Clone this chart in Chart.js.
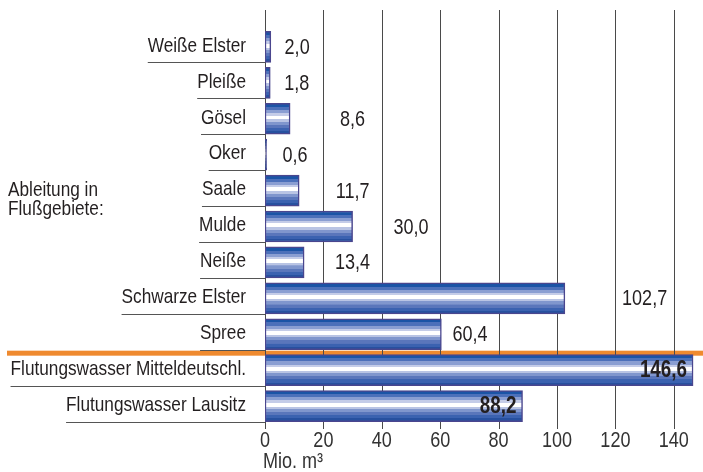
<!DOCTYPE html>
<html>
<head>
<meta charset="utf-8">
<script src="https://cdn.jsdelivr.net/npm/chart.js@4.4.1/dist/chart.umd.min.js"></script>
<style>
  html, body { margin: 0; padding: 0; background: #fff; }
  #wrap { width: 703px; height: 472px; }
</style>
</head>
<body>
<div id="wrap"><canvas id="chart"></canvas></div>
<script>
// Daten
const categories = ['Weiße Elster', 'Pleiße', 'Gösel', 'Oker', 'Saale', 'Mulde', 'Neiße',
  'Schwarze Elster', 'Spree', 'Flutungswasser Mitteldeutschl.', 'Flutungswasser Lausitz'];
const values = [2.0, 1.8, 8.6, 0.6, 11.7, 30.0, 13.4, 102.7, 60.4, 146.6, 88.2];
const valueLabels = ['2,0', '1,8', '8,6', '0,6', '11,7', '30,0', '13,4', '102,7', '60,4', '146,6', '88,2'];
const xTicks = [0, 20, 40, 60, 80, 100, 120, 140];
const xTitle = 'Mio. m³';
const groupTitle = ['Ableitung in', 'Flußgebiete:'];
const groupRow = 4;    // Saale - neben dieser Zeile steht der Gruppentitel
const floodStart = 9;  // ab hier Flutungswasser (unter dem orangen Strich)

// schmale Schrift: Liberation Sans horizontal gestaucht (wie Arial Narrow)
const FONT = "'Liberation Sans', Arial, sans-serif";
const SX = 0.82;
const INK = '#231f20';
const BAR_H = 31;

// Streifen im Balken, von oben nach unten
const bands = [
  [0.00, '#1b54a6'], [0.12, '#4c70ba'], [0.22, '#8a9ed2'], [0.32, '#c4cce8'],
  [0.40, '#ffffff'], [0.52, '#b9c4e4'], [0.60, '#8096cd'], [0.70, '#5a76bb'],
  [0.80, '#3b62b0'], [0.90, '#27509f']
];

function stripes(c) {
  const chart = c.chart;
  const y = chart.scales.y;
  if (!y || c.dataIndex === undefined) return '#2a58a8';
  const cy = y.getPixelForValue(c.dataIndex);
  if (!isFinite(cy)) return '#2a58a8';
  const g = chart.ctx.createLinearGradient(0, cy - BAR_H / 2, 0, cy + BAR_H / 2);
  bands.forEach((b, i) => {
    const end = i < bands.length - 1 ? bands[i + 1][0] : 1;
    g.addColorStop(b[0], b[1]);
    g.addColorStop(Math.max(b[0], end - 0.001), b[1]);
  });
  return g;
}

function setFont(ctx, size, bold) {
  ctx.font = (bold ? 'bold ' : '') + size + 'px ' + FONT;
}
function textWidth(ctx, s, size, bold) {
  setFont(ctx, size, bold);
  return ctx.measureText(s).width * SX;
}
function drawText(ctx, s, x, y, size, align, bold, color) {
  ctx.save();
  setFont(ctx, size, bold);
  ctx.fillStyle = color || INK;
  ctx.textAlign = align;
  ctx.textBaseline = 'middle';
  ctx.translate(x, y);
  ctx.scale(SX, 1);
  ctx.fillText(s, 0, 0);
  ctx.restore();
}

const decor = {
  id: 'decor',
  beforeDatasetsDraw(chart) {
    const { ctx, chartArea } = chart;
    const x = chart.scales.x, y = chart.scales.y;
    ctx.save();
    // oranger Trennstrich
    const sepY = (y.getPixelForValue(floodStart - 1) + y.getPixelForValue(floodStart)) / 2 + 1;
    ctx.fillStyle = '#ef8a2f';
    ctx.fillRect(7, sepY - 2.5, chart.width - 7, 5);
    // senkrechte Gitterlinien
    ctx.strokeStyle = '#4a4a4a';
    ctx.lineWidth = 1;
    xTicks.forEach(t => {
      const px = Math.round(x.getPixelForValue(t)) + 0.5;
      ctx.beginPath();
      ctx.moveTo(px, 10);
      ctx.lineTo(px, chartArea.bottom + 5);
      ctx.stroke();
    });
    // Kategorien mit Unterstreichung
    ctx.strokeStyle = '#555';
    const right = chartArea.left - 19;
    categories.forEach((lab, i) => {
      const cy = y.getPixelForValue(i);
      const w = textWidth(ctx, lab, 21);
      const ly = Math.round(cy + BAR_H / 2) + 0.5;
      ctx.beginPath();
      ctx.moveTo(right - w, ly);
      ctx.lineTo(chartArea.left, ly);
      ctx.stroke();
      drawText(ctx, lab, right, cy - 1, 21, 'right');
    });
    // Gruppentitel
    const gy = y.getPixelForValue(groupRow);
    groupTitle.forEach((t, k) => drawText(ctx, t, 8, gy + k * 19, 21, 'left'));
    // x-Achse: Beschriftung und Einheit
    xTicks.forEach(t => drawText(ctx, String(t), x.getPixelForValue(t), chartArea.bottom + 17, 22, 'center', false, '#333'));
    drawText(ctx, xTitle, chartArea.left - 2, chartArea.bottom + 38, 22, 'left', false, '#333');
    ctx.restore();
  },
  afterDatasetsDraw(chart) {
    const { ctx, chartArea } = chart;
    const x = chart.scales.x, y = chart.scales.y;
    const grid = xTicks.map(t => x.getPixelForValue(t)).concat([chartArea.right]);
    values.forEach((v, i) => {
      const cy = y.getPixelForValue(i) + 1;
      const end = x.getPixelForValue(v);
      if (i >= floodStart) {
        drawText(ctx, valueLabels[i], end - 6, cy, 23, 'right', true);
        return;
      }
      const w = textWidth(ctx, valueLabels[i], 22);
      const next = grid.find(g => g > end + 1);
      let cx;
      if (next - end >= w + 14) {
        cx = (end + next) / 2;
      } else {
        const after = grid.find(g => g > next + 1);
        cx = (next + after) / 2;
      }
      drawText(ctx, valueLabels[i], cx, cy, 22, 'center');
    });
  }
};

new Chart(document.getElementById('chart'), {
  type: 'bar',
  data: {
    labels: categories,
    datasets: [{
      data: values,
      backgroundColor: stripes,
      borderColor: '#4a468e',
      borderWidth: 1.5,
      borderSkipped: false,
      barThickness: BAR_H
    }]
  },
  options: {
    indexAxis: 'y',
    responsive: true,
    maintainAspectRatio: false,
    animation: false,
    layout: { padding: { top: 29, left: 0, right: 0, bottom: 0 } },
    plugins: { legend: { display: false }, tooltip: { enabled: false } },
    scales: {
      x: {
        min: 0,
        max: 150,
        afterBuildTicks: axis => { axis.ticks = xTicks.map(v => ({ value: v })); },
        afterFit: s => { s.height = 48; },
        grid: { display: false, drawTicks: false },
        border: { display: false },
        ticks: { display: false }
      },
      y: {
        afterFit: s => { s.width = 265; },
        grid: { display: false, drawTicks: false },
        border: { display: false },
        ticks: { display: false }
      }
    }
  },
  plugins: [decor]
});
</script>
</body>
</html>
